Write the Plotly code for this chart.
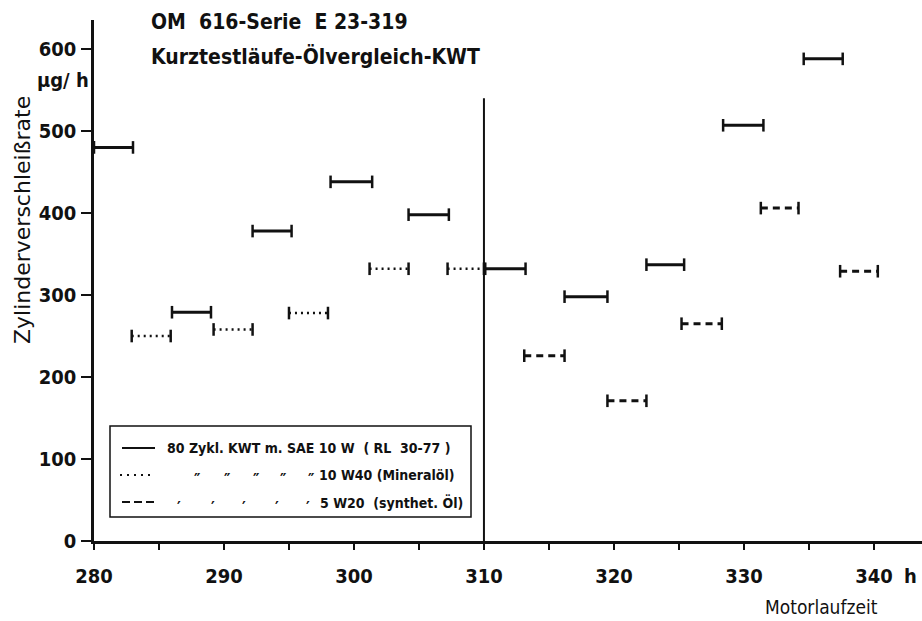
import plotly.graph_objects as go

# ---------------- data ----------------
solid_start = [280.0, 286.0, 292.2, 298.2, 304.2, 310.1, 316.2, 322.5, 328.4, 334.6]
solid_end   = [283.0, 289.0, 295.2, 301.4, 307.3, 313.2, 319.5, 325.4, 331.5, 337.6]
solid_rate  = [480, 279, 378, 438, 398, 332, 298, 337, 507, 588]

dotted_start = [282.9, 289.2, 295.0, 301.2, 307.2]
dotted_end   = [285.9, 292.2, 298.0, 304.2, 310.0]
dotted_rate  = [250, 258, 278, 332, 332]

dashed_start = [313.1, 319.5, 325.2, 331.3, 337.4]
dashed_end   = [316.2, 322.5, 328.3, 334.2, 340.3]
dashed_rate  = [226, 171, 265, 406, 329]

divider_x = 310
divider_top = 540

x_ticks = [280, 290, 300, 310, 320, 330, 340]
y_ticks = [0, 100, 200, 300, 400, 500, 600]

title_lines = ["OM  616-Serie  E 23-319", "Kurztestläufe-Ölvergleich-KWT"]
y_title = "Zylinderverschleißrate"
y_unit = "µg/ h"
x_title = "Motorlaufzeit"
x_unit = "h"

legend_row1 = "80 Zykl. KWT m. SAE 10 W  ( RL  30-77 )"
legend_row2 = "10 W40 (Mineralöl)"
legend_row3 = "5 W20  (synthet. Öl)"
ditto2 = "″"
ditto3 = "′"

FONT = "DejaVu Sans Condensed"
BLACK = "#111111"


def segs(starts, ends, rates):
    xs, ys = [], []
    for s, e, r in zip(starts, ends, rates):
        xs += [s, e, None]
        ys += [r, r, None]
    return xs, ys


fig = go.Figure()

styles = [
    (solid_start, solid_end, solid_rate, "solid", 3),
    (dotted_start, dotted_end, dotted_rate, "2px,4px", 2.5),
    (dashed_start, dashed_end, dashed_rate, "7px,5px", 3),
]
for st, en, ra, dash, w in styles:
    xs, ys = segs(st, en, ra)
    fig.add_trace(go.Scatter(
        x=xs, y=ys, mode="lines+markers",
        line=dict(color=BLACK, width=w, dash=dash),
        marker=dict(symbol="line-ns", size=9, color=BLACK,
                    line=dict(color=BLACK, width=2.5)),
        showlegend=False, hoverinfo="skip"))

# divider line
fig.add_trace(go.Scatter(x=[divider_x, divider_x], y=[0, divider_top], mode="lines",
                         line=dict(color=BLACK, width=2), showlegend=False,
                         hoverinfo="skip"))

tickfont = dict(family=FONT, size=20, color=BLACK, weight="bold")
fig.update_xaxes(range=[280, 343.7], tickvals=x_ticks, ticktext=[str(v) for v in x_ticks],
                 ticks="outside", ticklen=6, tickwidth=2, tickcolor=BLACK,
                 minor=dict(dtick=5, tick0=280, ticks="outside", ticklen=6,
                            tickwidth=2, tickcolor=BLACK),
                 showgrid=False, zeroline=False, showline=True, linewidth=2.5,
                 linecolor=BLACK, tickfont=tickfont, ticklabelstandoff=9)
fig.update_yaxes(range=[0, 635.4], tickvals=y_ticks, ticks="outside", ticklen=10,
                 tickwidth=2, tickcolor=BLACK, showgrid=False, zeroline=False,
                 showline=True, linewidth=2.5, linecolor=BLACK,
                 tickfont=tickfont, ticklabelstandoff=1)

W, H = 922, 621
L, R, T, B = 94, 0, 20, 80
pw, ph = W - L - R, H - T - B


def px(x):
    return (x - L) / pw


def py(y):
    return (H - B - y) / ph


ann = []
tf = dict(family=FONT, size=21, color=BLACK, weight="bold")
ann.append(dict(text=title_lines[0], x=px(149), y=py(22), xanchor="left", yanchor="middle", font=tf))
ann.append(dict(text=title_lines[1], x=px(149), y=py(57), xanchor="left", yanchor="middle", font=tf))
ann.append(dict(text=y_title, x=px(22), y=py(220), textangle=-90, xanchor="center",
                yanchor="middle", font=dict(family="DejaVu Sans", size=22, color=BLACK)))
ann.append(dict(text=y_unit, x=px(63), y=py(80), xanchor="center", yanchor="middle",
                font=dict(family=FONT, size=20, color=BLACK, weight="bold")))
ann.append(dict(text=x_title, x=px(821), y=py(607), xanchor="center", yanchor="middle",
                font=dict(family=FONT, size=19, color=BLACK)))
ann.append(dict(text=x_unit, x=px(910), y=py(576), xanchor="center", yanchor="middle",
                font=tickfont))

lf = dict(family=FONT, size=14, color=BLACK, weight="bold")
ann.append(dict(text=legend_row1, x=px(165), y=py(448), xanchor="left", yanchor="middle", font=lf))
ann.append(dict(text=legend_row2, x=px(457), y=py(475), xanchor="right", yanchor="middle", font=lf))
ann.append(dict(text=legend_row3, x=px(465), y=py(502), xanchor="right", yanchor="middle", font=lf))
df = dict(family=FONT, size=16, color=BLACK, weight="bold")
for xx in [197, 227, 256, 283, 311]:
    ann.append(dict(text=ditto2, x=px(xx), y=py(479), xanchor="center", yanchor="middle", font=df))
for xx in [179, 213, 244, 277, 308]:
    ann.append(dict(text=ditto3, x=px(xx), y=py(507), xanchor="center", yanchor="middle", font=df))
for a in ann:
    a.update(xref="paper", yref="paper", showarrow=False)

shapes = [
    dict(type="rect", xref="paper", yref="paper", x0=px(110), x1=px(471), y0=py(517), y1=py(426),
         line=dict(color=BLACK, width=1.5), fillcolor="white", layer="below"),
    dict(type="line", xref="paper", yref="paper", x0=px(122), x1=px(155), y0=py(448), y1=py(448),
         line=dict(color=BLACK, width=2)),
    dict(type="line", xref="paper", yref="paper", x0=px(120), x1=px(152), y0=py(475), y1=py(475),
         line=dict(color=BLACK, width=2, dash="2px,5px")),
    dict(type="line", xref="paper", yref="paper", x0=px(122), x1=px(154), y0=py(502), y1=py(502),
         line=dict(color=BLACK, width=2, dash="8px,4px")),
]

fig.update_layout(width=W, height=H, margin=dict(l=L, r=R, t=T, b=B),
                  paper_bgcolor="white", plot_bgcolor="white",
                  annotations=ann, shapes=shapes, showlegend=False,
                  font=dict(family=FONT, color=BLACK))

fig.write_html("out.html")
